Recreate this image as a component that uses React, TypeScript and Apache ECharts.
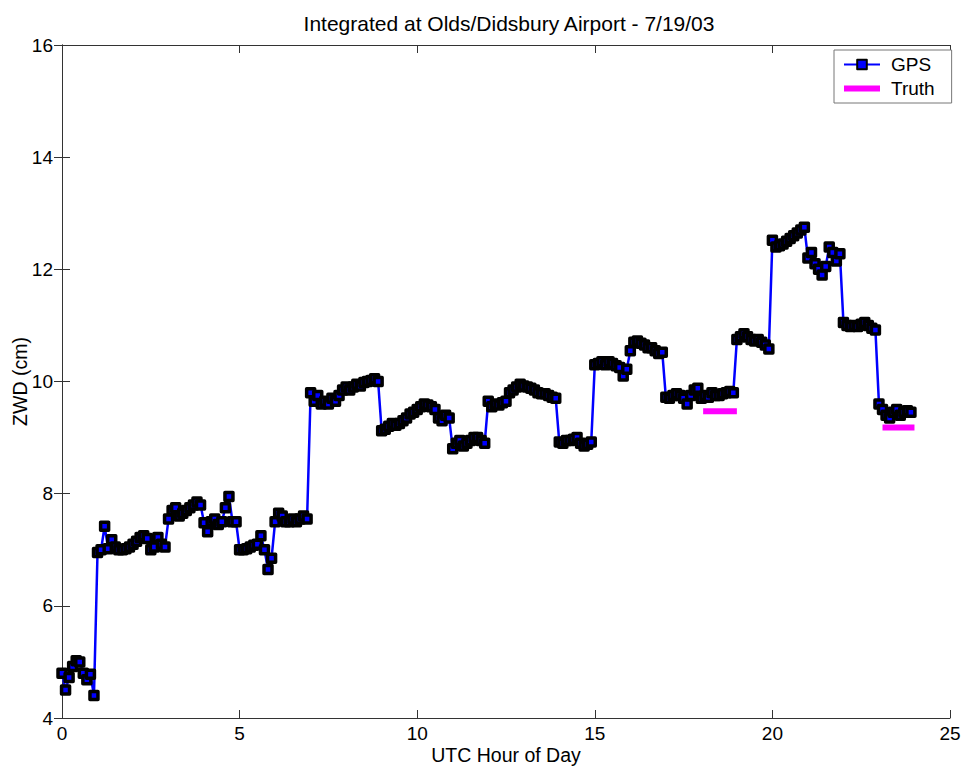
import React, { useEffect, useRef } from "react";
import * as echarts from "echarts";

// GPS zenith wet delay (cm), one row per UTC hour, sampled every 6 minutes
const gpsHours = [0, 1, 2, 3, 4, 5, 6, 7, 8, 9, 10, 11, 12, 13, 14, 15, 16, 17, 18, 19, 20, 21, 22, 23];
const sampleOffsets = [0, 0.1, 0.2, 0.3, 0.4, 0.5, 0.6, 0.7, 0.8, 0.9];
const gpsZwd: number[][] = [
  [4.8, 4.5, 4.72, 4.92, 5.02, 5.0, 4.8, 4.68, 4.78, 4.4],
  [6.95, 7.0, 7.42, 7.02, 7.18, 7.05, 7.0, 7.0, 7.02, 7.05],
  [7.1, 7.15, 7.22, 7.25, 7.2, 7.0, 7.05, 7.22, 7.1, 7.05],
  [7.55, 7.7, 7.75, 7.6, 7.65, 7.7, 7.75, 7.8, 7.85, 7.8],
  [7.48, 7.32, 7.5, 7.55, 7.45, 7.5, 7.75, 7.95, 7.5, 7.5],
  [7.0, 7.0, 7.02, 7.05, 7.08, 7.1, 7.25, 7.0, 6.65, 6.85],
  [7.5, 7.65, 7.6, 7.5, 7.5, 7.55, 7.5, 7.55, 7.6, 7.55],
  [9.8, 9.65, 9.75, 9.6, 9.65, 9.6, 9.7, 9.65, 9.75, 9.85],
  [9.9, 9.85, 9.9, 9.95, 9.92, 9.98, 10.0, 10.02, 10.05, 10.0],
  [9.12, 9.15, 9.2, 9.25, 9.22, 9.25, 9.3, 9.35, 9.42, 9.45],
  [9.5, 9.55, 9.6, 9.58, 9.55, 9.5, 9.35, 9.3, 9.4, 9.35],
  [8.8, 8.9, 8.95, 8.85, 8.9, 8.95, 9.0, 9.0, 8.95, 8.9],
  [9.65, 9.55, 9.6, 9.58, 9.62, 9.65, 9.8, 9.85, 9.9, 9.95],
  [9.92, 9.9, 9.88, 9.85, 9.8, 9.78, 9.78, 9.75, 9.72, 9.7],
  [8.92, 8.9, 8.95, 8.95, 8.97, 9.0, 8.9, 8.85, 8.88, 8.92],
  [10.3, 10.32, 10.35, 10.3, 10.35, 10.32, 10.28, 10.25, 10.1, 10.22],
  [10.55, 10.7, 10.72, 10.68, 10.65, 10.6, 10.6, 10.55, 10.5, 10.52],
  [9.72, 9.7, 9.75, 9.78, 9.75, 9.7, 9.6, 9.75, 9.85, 9.88],
  [9.7, 9.75, 9.72, 9.8, 9.75, 9.75, 9.78, 9.8, 9.82, 9.8],
  [10.75, 10.8, 10.85, 10.8, 10.75, 10.72, 10.75, 10.7, 10.65, 10.58],
  [12.52, 12.4, 12.42, 12.45, 12.5, 12.55, 12.6, 12.65, 12.7, 12.75],
  [12.2, 12.3, 12.1, 12.0, 11.9, 12.05, 12.4, 12.3, 12.15, 12.28],
  [11.05, 11.0, 10.98, 11.0, 10.98, 11.02, 11.05, 11.0, 10.95, 10.92],
  [9.6, 9.5, 9.4, 9.35, 9.45, 9.5, 9.4, 9.45, 9.48, 9.45],
];

// Reference ("truth") values, one flat segment per comparison window
const truthStart = [18.05, 23.1];
const truthEnd = [19.0, 24.0];
const truthZwd = [9.47, 9.18];

const xTicks = { min: 0, max: 25, interval: 5 };
const yTicks = { min: 4, max: 16, interval: 2 };

const FONT = "Liberation Sans, Arial, sans-serif";

export default function App() {
  const ref = useRef<HTMLDivElement>(null);

  useEffect(() => {
    document.body.style.margin = "0";
    if (!ref.current) return;
    const chart = echarts.init(ref.current, undefined, { renderer: "svg" });

    const gpsData: number[][] = [];
    gpsHours.forEach((h, i) => {
      gpsZwd[i].forEach((v, k) => gpsData.push([h + sampleOffsets[k], v]));
    });

    const truthSeries = truthZwd.map((v, i) => ({
      name: "Truth",
      type: "line",
      data: [
        [truthStart[i], v],
        [truthEnd[i], v],
      ],
      symbol: "none",
      lineStyle: { color: "#ff00ff", width: 6, cap: "butt" },
      itemStyle: { color: "#ff00ff" },
      z: 3,
    }));

    const axisLine = { show: true, lineStyle: { color: "#333", width: 1 } };
    const tick = { show: true, inside: true, length: 8, lineStyle: { color: "#333" } };
    const label = { color: "#000", fontSize: 19, fontFamily: FONT };

    chart.setOption({
      animation: false,
      backgroundColor: "#fff",
      title: {
        text: "Integrated at Olds/Didsbury Airport - 7/19/03",
        left: 504,
        top: 8,
        textAlign: "center",
        textStyle: { fontSize: 21, fontWeight: "normal", color: "#000", fontFamily: FONT },
      },
      legend: {
        data: [
          { name: "GPS" },
          { name: "Truth", icon: "path://M0,0 H36 V6 H0 Z", itemStyle: { color: "#ff00ff" } },
        ],
        orient: "vertical",
        left: 834,
        top: 50,
        backgroundColor: "#fff",
        borderColor: "#777",
        borderWidth: 1,
        padding: [5, 17, 5, 9],
        itemWidth: 36,
        itemHeight: 12,
        itemGap: 5,
        textStyle: { fontSize: 19, color: "#000", fontFamily: FONT, padding: [0, 0, 0, 6] },
      },
      grid: { left: 62, right: 17, top: 45, bottom: 49, outerBoundsMode: "none", containLabel: false },
      xAxis: [
        {
          type: "value",
          ...xTicks,
          position: "bottom",
          name: "UTC Hour of Day",
          nameLocation: "middle",
          nameGap: 27,
          nameMoveOverlap: false,
          nameTextStyle: { fontSize: 19.5, color: "#000", fontFamily: FONT },
          axisLine,
          axisTick: tick,
          axisLabel: { ...label, margin: 6 },
          splitLine: { show: false },
        },
        {
          type: "value",
          ...xTicks,
          position: "top",
          axisLine,
          axisTick: tick,
          axisLabel: { show: false },
          splitLine: { show: false },
        },
      ],
      yAxis: [
        {
          type: "value",
          ...yTicks,
          position: "left",
          name: "ZWD (cm)",
          nameLocation: "middle",
          nameGap: 32,
          nameMoveOverlap: false,
          nameTextStyle: { fontSize: 19.5, color: "#000", fontFamily: FONT },
          axisLine,
          axisTick: tick,
          axisLabel: { ...label, margin: 9 },
          splitLine: { show: false },
        },
        {
          type: "value",
          ...yTicks,
          position: "right",
          axisLine,
          axisTick: tick,
          axisLabel: { show: false },
          splitLine: { show: false },
        },
      ],
      series: [
        {
          name: "GPS",
          type: "line",
          data: gpsData,
          symbol: "rect",
          symbolSize: 8,
          showAllSymbol: true,
          lineStyle: { color: "#0000ff", width: 2.5 },
          itemStyle: { color: "#0000ff", borderColor: "#000", borderWidth: 3.5, borderJoin: "round" },
          z: 2,
        },
        ...truthSeries,
      ],
    });

    return () => chart.dispose();
  }, []);

  return <div ref={ref} style={{ width: 967, height: 767 }} />;
}
